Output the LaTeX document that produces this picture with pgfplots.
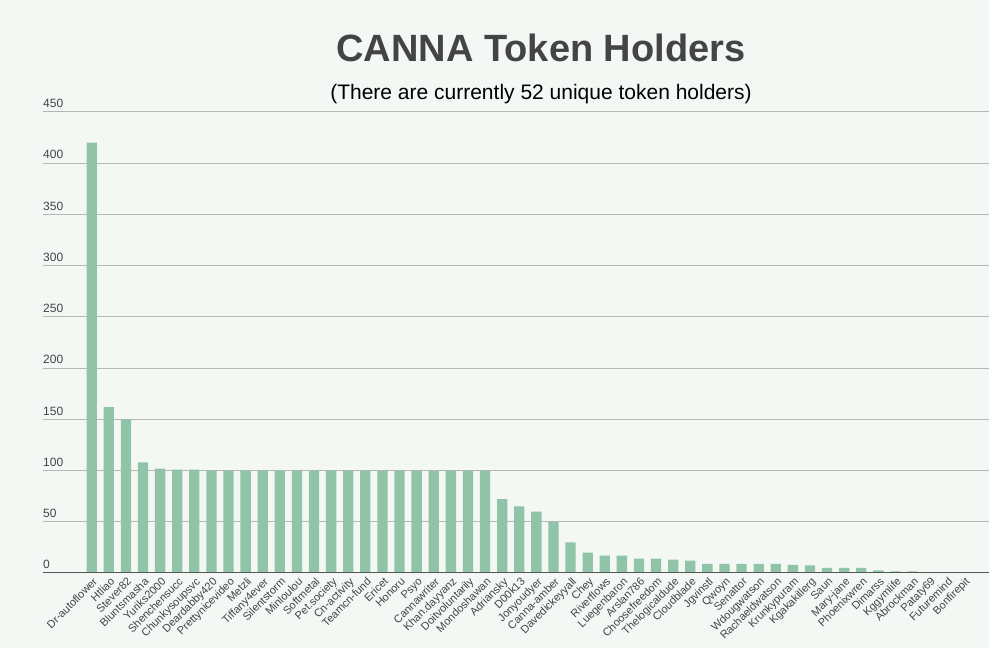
\documentclass[border=0pt]{standalone}
\usepackage{fontspec}
\setmainfont{Liberation Sans}
\usepackage{pgfplots}
\usepackage{pgfplotstable}
\pgfplotsset{compat=1.18}

\definecolor{bgc}{HTML}{F3F8F4}
\definecolor{barc}{HTML}{8FC4A8}
\definecolor{txt}{HTML}{444444}
\definecolor{gridc}{HTML}{B4B8B5}
\definecolor{axc}{HTML}{555555}

\pgfplotstableread{
i  name            value
0  Dr-autoflower   420
1  Htliao          162
2  Stever82        150
3  Bluntsmasha     108
4  Yuriks2000      102
5  Shenchensucc    101
6  Chunkysoupsvc   101
7  Deardabby420    100
8  Prettynicevideo 100
9  Metzli          100
10 Tiffany4ever    100
11 Silentstorm     100
12 Minloulou       100
13 Softmetal       100
14 Pet.society     100
15 Cn-activity     100
16 Teamcn-fund     100
17 Ericet          100
18 Honoru          100
19 Psyo            100
20 Cannawriter     100
21 Khan.dayyanz    100
22 Doitvoluntarily 100
23 Mondoshawan     100
24 Adriansky       72
25 D00k13          65
26 Jonyoudyer      60
27 Canna-amber     50
28 Davedickeyyall  30
29 Chey            20
30 Riverflows      17
31 Luegenbaron     17
32 Arslan786       14
33 Choosefreedom   14
34 Thelogicaldude  13
35 Cloudblade      12
36 Jgvinstl        9
37 Qwoyn           9
38 Senattor        9
39 Wdougwatson     9
40 Rachaeldwatson  9
41 Krunkypuram     8
42 Kgakakillerg    7.5
43 Saun            5
44 Mary-jane       5
45 Phoenixwren     5
46 Dimarss         2.5
47 Kggymlife       1.5
48 Abrockman       1.5
49 Pataty69        0.8
50 Futuremind      0.5
51 Bonfirepit      0.2
}\holders

\begin{document}
\begin{tikzpicture}[x=1pt,y=1pt]
\fill[bgc] (0,0) rectangle (989,648);
\useasboundingbox (0,0) rectangle (989,648);
\node[txt, font=\fontsize{38}{40}\selectfont\bfseries, anchor=base] at (541,586.3) {CANNA Token Holders};
\node[black, font=\fontsize{21}{24}\selectfont, anchor=base] at (541,548) {(There are currently 52 unique token holders)};
\begin{axis}[
    at={(43pt,75pt)}, anchor=south west,
    scale only axis,
    width=946pt, height=461pt,
    xmin=-2.85, xmax=52.47,
    ymin=0, ymax=450,
    ybar, bar width=10.3pt,
    axis line style={draw=none},
    major tick length=0pt,
    ytick={0,50,...,450},
    ymajorgrids,
    grid style={gridc, line width=1pt},
    xtick=data,
    xticklabels from table={\holders}{name},
    /pgf/number format/assume math mode=true,
    yticklabel style={anchor=south west, inner sep=0pt, yshift=4pt,
        font=\fontsize{12}{14}\selectfont, text=txt},
    xticklabel style={rotate=45, anchor=north east, inner sep=1pt,
        xshift=-1pt, yshift=-2pt, font=\fontsize{11}{13}\selectfont, text=txt},
]
\addplot[fill=barc, draw=none] table[x=i, y=value] {\holders};
\draw[axc, line width=2pt] (rel axis cs:0,0) -- (rel axis cs:1,0);
\end{axis}
\end{tikzpicture}
\end{document}
